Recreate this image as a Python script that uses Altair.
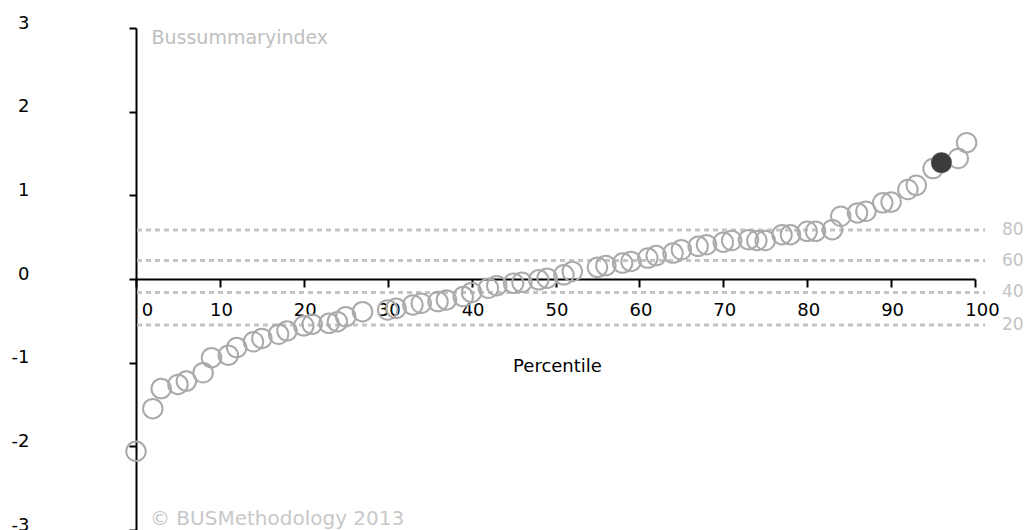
import altair as alt
import pandas as pd

# ---- data ----
percentile = [0, 2, 3, 5, 6, 8, 9, 11, 12, 14, 15, 17, 18, 20, 21, 23, 24, 25, 27, 30,
              31, 33, 34, 36, 37, 39, 40, 42, 43, 45, 46, 48, 49, 51, 52, 55, 56, 58, 59, 61,
              62, 64, 65, 67, 68, 70, 71, 73, 74, 75, 77, 78, 80, 81, 83, 84, 86, 87, 89, 90,
              92, 93, 95, 96, 98, 99]
score = [-2.06, -1.55, -1.31, -1.26, -1.22, -1.12, -0.94, -0.91, -0.82, -0.75,
         -0.71, -0.66, -0.62, -0.56, -0.54, -0.53, -0.51, -0.45, -0.39, -0.37,
         -0.35, -0.31, -0.29, -0.27, -0.25, -0.21, -0.16, -0.11, -0.08, -0.05,
         -0.04, -0.01, 0.01, 0.05, 0.09, 0.14, 0.16, 0.19, 0.21, 0.25,
         0.28, 0.31, 0.35, 0.39, 0.41, 0.44, 0.46, 0.47, 0.46, 0.46,
         0.53, 0.53, 0.57, 0.57, 0.59, 0.75, 0.79, 0.81, 0.91, 0.92,
         1.07, 1.12, 1.32, 1.39, 1.44, 1.63]
highlight_percentile = [96]
highlight_score = [1.39]

ref_labels = ["80", "60", "40", "20"]
ref_values = [0.585, 0.22, -0.16, -0.55]

x_ticks = [0, 10, 20, 30, 40, 50, 60, 70, 80, 90, 100]
y_ticks = [-3, -2, -1, 0, 1, 2, 3]

y_title = "Bussummaryindex"
x_title = "Percentile"
copyright_text = "© BUSMethodology 2013"

FONT = "DejaVu Sans"

df = pd.DataFrame({"percentile": percentile, "score": score})
df_h = pd.DataFrame({"percentile": highlight_percentile, "score": highlight_score})
df_ref = pd.DataFrame({"value": ref_values, "label": ref_labels})
df_copy = pd.DataFrame({"t": [copyright_text]})

x_scale = alt.Scale(domain=[0, 100], nice=False, zero=False)
y_scale = alt.Scale(domain=[-3, 3], nice=False, zero=False)

x_axis = alt.Axis(
    values=x_ticks, offset=-251, grid=False, format="d",
    domainColor="black", domainWidth=2,
    tickColor="black", tickWidth=2, tickSize=8,
    labelFont=FONT, labelFontSize=18, labelColor="black", labelPadding=14,
    labelFlush=False,
    labelOffset={"condition": [{"test": "datum.value == 0", "value": 11},
                               {"test": "datum.value == 100", "value": 7}],
                 "value": 1},
    title=x_title, titleFont=FONT, titleFontSize=18, titleFontWeight="normal",
    titleColor="black", titleX=421, titleY=78, titleBaseline="top", titleAlign="center",
)
y_axis = alt.Axis(
    values=y_ticks, grid=False, labelExpr="'' + datum.value",
    domainColor="black", domainWidth=2,
    tickColor="black", tickWidth=2, tickSize=7,
    labelFont=FONT, labelFontSize=18, labelColor="black", labelPadding=100,
    labelBaseline="alphabetic", labelAlign="right", labelFlush=False,
    title=y_title, titleFont=FONT, titleFontSize=19, titleFontWeight="normal",
    titleColor="#c0c0c0", titleAngle=0, titleAlign="left", titleBaseline="alphabetic",
    titleX=15, titleY=15,
)

ref_rules = alt.Chart(df_ref).mark_rule(
    strokeDash=[5, 4], strokeWidth=3, color="#c4c4c4"
).encode(
    y=alt.Y("value:Q", scale=y_scale, axis=y_axis),
    x=alt.value(1), x2=alt.value(849),
)

ref_text = alt.Chart(df_ref).mark_text(
    align="left", baseline="middle", fontSize=17, color="#c4c4c4", font=FONT
).encode(
    y=alt.Y("value:Q", scale=y_scale),
    x=alt.value(866),
    text="label:N",
)

points = alt.Chart(df).mark_point(
    shape="circle", filled=False, size=380, strokeWidth=2, color="#aaaaaa", opacity=1
).encode(
    x=alt.X("percentile:Q", scale=x_scale, axis=x_axis),
    y=alt.Y("score:Q", scale=y_scale),
)

hl = alt.Chart(df_h).mark_point(
    shape="circle", filled=True, size=420, color="#3c3c3c", opacity=1, strokeWidth=0
).encode(
    x=alt.X("percentile:Q", scale=x_scale),
    y=alt.Y("score:Q", scale=y_scale),
)

copy = alt.Chart(df_copy).mark_text(
    align="left", baseline="alphabetic", fontSize=20, color="#c8c8c8", font=FONT
).encode(
    x=alt.value(14), y=alt.value(497), text="t:N"
)

chart = alt.layer(ref_rules, ref_text, points, hl, copy).properties(
    width=839, height=502,
    padding={"left": 136, "top": 28, "right": 51, "bottom": 0},
    autosize=alt.AutoSizeParams(type="none"),
    background="white",
).configure(font=FONT).configure_view(stroke=None, strokeWidth=0)

chart.save("out.html", embed_options={"renderer": "svg", "actions": False})
